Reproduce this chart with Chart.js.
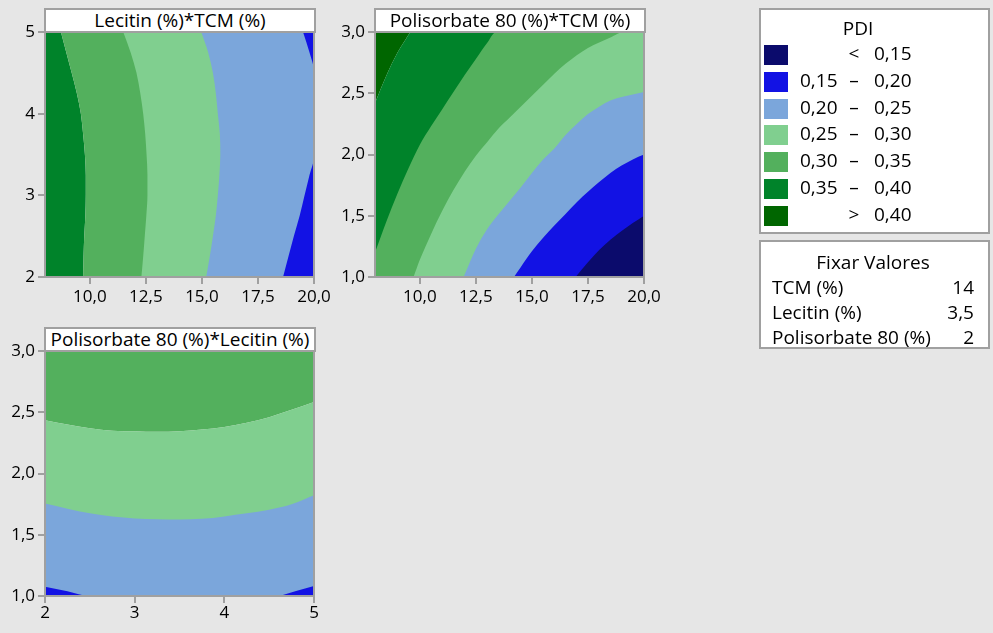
<!DOCTYPE html>
<html>
<head>
<meta charset="utf-8">
<script src="https://cdn.jsdelivr.net/npm/chart.js@4.4.1/dist/chart.umd.min.js"></script>
<style>
html,body{margin:0;padding:0;}
body{width:993px;height:633px;background:#e6e6e6;position:relative;overflow:hidden;font-family:"Open Sans","Noto Sans",sans-serif;color:#000;}
canvas{position:absolute;}
.ttl{position:absolute;box-sizing:border-box;background:#fff;border:2px solid #a0a0a0;text-align:center;font-size:19px;line-height:21px;white-space:nowrap;overflow:hidden;}
.box{position:absolute;box-sizing:border-box;background:#fff;border:2px solid #a0a0a0;}
.t{position:absolute;font-size:19px;line-height:22px;white-space:nowrap;}
.sw{position:absolute;width:24px;height:20px;}
</style>
</head>
<body>
<canvas id="c1" width="340" height="320" style="left:0;top:0"></canvas>
<canvas id="c2" width="340" height="320" style="left:330px;top:0"></canvas>
<canvas id="c3" width="340" height="314" style="left:0;top:319px"></canvas>
<div class="ttl" id="t1" style="left:44px;top:8px;width:272px;height:25px;"></div>
<div class="ttl" id="t2" style="left:374px;top:8px;width:272px;height:25px;"></div>
<div class="ttl" id="t3" style="left:44px;top:327px;width:272px;height:25px;"></div>
<div class="box" id="pdi" style="left:759px;top:8px;width:231px;height:226px;"></div>
<div class="box" id="hold" style="left:759px;top:240px;width:231px;height:109px;"></div>
<script>
// ---------- Texts ----------
const panelTitles = ['Lecitin (%)*TCM (%)', 'Polisorbate 80 (%)*TCM (%)', 'Polisorbate 80 (%)*Lecitin (%)'];
const legendTitle = 'PDI';
const pdiLow  = ['', '0,15', '0,20', '0,25', '0,30', '0,35', ''];
const pdiSep  = ['<', '–', '–', '–', '–', '–', '>'];
const pdiHigh = ['0,15', '0,20', '0,25', '0,30', '0,35', '0,40', '0,40'];
const pdiColors = ['#0b0b6c', '#1212e4', '#7ba6db', '#80cf8f', '#53b05d', '#00832a', '#006600'];
const holdTitle = 'Fixar Valores';
const holdNames = ['TCM (%)', 'Lecitin (%)', 'Polisorbate 80 (%)'];
const holdValues = ['14', '3,5', '2'];

// ---------- Axis ticks ----------
const tcmTicks = [10, 12.5, 15, 17.5, 20];
const tcmTickLabels = ['10,0', '12,5', '15,0', '17,5', '20,0'];
const lecTicks = [2, 3, 4, 5];
const lecTickLabels = ['2', '3', '4', '5'];
const polTicks = [1, 1.5, 2, 2.5, 3];
const polTickLabels = ['1,0', '1,5', '2,0', '2,5', '3,0'];

// ---------- Panel 1: TCM (x) vs Lecitin (y); contour x-positions at each Lecitin level ----------
const p1LecY = [2, 2.25, 2.5, 2.75, 3, 3.25, 3.5, 3.75, 4, 4.25, 4.5, 4.75, 5];
const p1Tcm035 = [9.70, 9.72, 9.75, 9.80, 9.82, 9.82, 9.78, 9.70, 9.60, 9.42, 9.19, 8.95, 8.71];
const p1Tcm030 = [12.30, 12.38, 12.45, 12.52, 12.57, 12.57, 12.53, 12.47, 12.38, 12.25, 12.08, 11.82, 11.49];
const p1Tcm025 = [15.19, 15.35, 15.49, 15.62, 15.71, 15.78, 15.82, 15.80, 15.71, 15.62, 15.49, 15.28, 14.97];
const p1Lec020 = [2, 2.25, 2.5, 2.75, 3, 3.25, 3.47, 4.52, 4.75, 5];
const p1Tcm020 = [18.62, 18.86, 19.10, 19.36, 19.58, 19.80, 20, 20, 19.80, 19.51];

// ---------- Panel 2: TCM (x) vs Polisorbate (y) ----------
const p2X040 = [8, 8.5, 9, 9.3, 9.65, 20];
const p2Y040 = [2.42, 2.64, 2.83, 2.92, 3.0, 3.0];
const p2X035 = [8, 8.5, 9, 9.5, 10, 10.5, 11, 11.5, 12, 12.5, 13, 13.4, 20];
const p2Y035 = [1.20, 1.45, 1.68, 1.89, 2.08, 2.23, 2.37, 2.51, 2.65, 2.78, 2.91, 3.0, 3.0];
const p2X030 = [9.72, 10, 10.5, 11, 11.5, 12, 12.5, 13, 13.5, 14, 14.5, 15, 15.5, 16, 16.5, 17, 17.5, 18, 18.5, 19.1, 20];
const p2Y030 = [1.0, 1.14, 1.35, 1.54, 1.71, 1.86, 1.99, 2.10, 2.21, 2.30, 2.39, 2.48, 2.57, 2.66, 2.74, 2.81, 2.87, 2.915, 2.955, 3.0, 3.0];
const p2X025 = [11.95, 12, 12.5, 13, 13.5, 14, 14.5, 15, 15.5, 16, 16.5, 17, 17.5, 18, 18.5, 19, 19.5, 20];
const p2Y025 = [1.0, 1.02, 1.23, 1.39, 1.51, 1.62, 1.73, 1.85, 1.96, 2.05, 2.16, 2.25, 2.33, 2.39, 2.44, 2.47, 2.49, 2.51];
const p2X020 = [14.2, 14.5, 15, 15.5, 16, 16.5, 17, 17.5, 18, 18.5, 19, 19.5, 20];
const p2Y020 = [1.0, 1.08, 1.21, 1.32, 1.42, 1.515, 1.61, 1.695, 1.775, 1.85, 1.91, 1.96, 2.0];
const p2X015 = [16.95, 17.5, 18, 18.5, 19, 19.5, 20];
const p2Y015 = [1.0, 1.12, 1.22, 1.305, 1.375, 1.44, 1.50];

// ---------- Panel 3: Lecitin (x) vs Polisorbate (y) ----------
const p3LecX = [2, 2.25, 2.5, 2.75, 3, 3.25, 3.5, 3.75, 4, 4.25, 4.5, 4.75, 5];
const p3Pol030 = [2.435, 2.40, 2.37, 2.35, 2.345, 2.34, 2.345, 2.36, 2.38, 2.415, 2.46, 2.52, 2.584];
const p3Pol025 = [1.755, 1.713, 1.675, 1.648, 1.633, 1.627, 1.625, 1.63, 1.65, 1.675, 1.705, 1.75, 1.823];
const p3X020 = [2, 2.25, 2.5, 4.58, 4.8, 5];
const p3Y020 = [1.076, 1.038, 1.0, 1.0, 1.04, 1.082];

// ---------- Helpers ----------
const FONT = '"Open Sans", "Noto Sans", sans-serif';
const zip = (xs, ys) => xs.map((x, i) => ({x: x, y: ys[i]}));
const region = (data, color, target, i) => ({
  data: data, backgroundColor: color, borderColor: color, borderWidth: 0,
  pointRadius: 0, fill: {value: target}, order: -i, cubicInterpolationMode: 'monotone'
});
const framePlugin = {
  id: 'frame',
  afterDraw(chart) {
    const {ctx, chartArea: a} = chart;
    ctx.save();
    ctx.strokeStyle = '#a0a0a0';
    ctx.lineWidth = 2;
    ctx.strokeRect(a.left, a.top, a.right - a.left, a.bottom - a.top);
    ctx.restore();
  }
};
function axisCfg(pos, min, max, vals, labels, size, pad) {
  return {
    type: 'linear', position: pos, min: min, max: max, z: 1,
    afterBuildTicks: s => { s.ticks = vals.map(v => ({value: v})); },
    afterFit: s => { if (pos === 'left') s.width = size; else s.height = size; },
    ticks: {callback: (v, i) => labels[i], color: '#000', font: {family: FONT, size: 17},
            padding: pad, autoSkip: false, maxRotation: 0, minRotation: 0},
    grid: {drawOnChartArea: false, drawTicks: true, tickLength: 7, color: '#a0a0a0', lineWidth: 2},
    border: {display: true, color: '#a0a0a0', width: 2}
  };
}
function makeChart(id, datasets, xAxis, yAxis, indexAxis) {
  return new Chart(document.getElementById(id), {
    type: 'line',
    data: {datasets: datasets},
    options: {
      indexAxis: indexAxis, responsive: false, animation: false, devicePixelRatio: 1, events: [],
      layout: {padding: {top: 32, right: 26, left: 0, bottom: 0}},
      plugins: {legend: {display: false}, tooltip: {enabled: false}, title: {display: false}},
      scales: {x: xAxis, y: yAxis},
      elements: {point: {radius: 0}}
    },
    plugins: [framePlugin]
  });
}

// ---------- Panel 1 (vertical contours, index axis y) ----------
const p1Left = zip(p1Tcm035, p1LecY);
makeChart('c1', [
  region(p1Left, pdiColors[5], 8, 0),
  region(p1Left, pdiColors[4], 20, 1),
  region(zip(p1Tcm030, p1LecY), pdiColors[3], 20, 2),
  region(zip(p1Tcm025, p1LecY), pdiColors[2], 20, 3),
  region(zip(p1Tcm020, p1Lec020), pdiColors[1], 20, 4)
], axisCfg('bottom', 8, 20, tcmTicks, tcmTickLabels, 43, 3),
   axisCfg('left', 2, 5, lecTicks, lecTickLabels, 45, 3), 'y');

// ---------- Panel 2 ----------
const p2Top = zip(p2X040, p2Y040);
makeChart('c2', [
  region(p2Top, pdiColors[6], 3, 0),
  region(p2Top, pdiColors[5], 1, 1),
  region(zip(p2X035, p2Y035), pdiColors[4], 1, 2),
  region(zip(p2X030, p2Y030), pdiColors[3], 1, 3),
  region(zip(p2X025, p2Y025), pdiColors[2], 1, 4),
  region(zip(p2X020, p2Y020), pdiColors[1], 1, 5),
  region(zip(p2X015, p2Y015), pdiColors[0], 1, 6)
], axisCfg('bottom', 8, 20, tcmTicks, tcmTickLabels, 43, 3),
   axisCfg('left', 1, 3, polTicks, polTickLabels, 45, 3), 'x');

// ---------- Panel 3 ----------
const p3Top = zip(p3LecX, p3Pol030);
makeChart('c3', [
  region(p3Top, pdiColors[4], 3, 0),
  region(p3Top, pdiColors[3], 1, 1),
  region(zip(p3LecX, p3Pol025), pdiColors[2], 1, 2),
  region(zip(p3X020, p3Y020), pdiColors[1], 0.5, 3)
], axisCfg('bottom', 2, 5, lecTicks, lecTickLabels, 37, 0),
   axisCfg('left', 1, 3, polTicks, polTickLabels, 45, 3), 'x');

// ---------- Titles ----------
['t1', 't2', 't3'].forEach((id, i) => { document.getElementById(id).textContent = panelTitles[i]; });

// ---------- PDI legend ----------
function addText(parent, txt, left, top, align) {
  const d = document.createElement('div');
  d.className = 't';
  d.textContent = txt;
  d.style.top = top + 'px';
  if (align === 'right') d.style.right = left + 'px'; else d.style.left = left + 'px';
  if (align === 'center') d.style.transform = 'translateX(-50%)';
  parent.appendChild(d);
  return d;
}
const pdiBox = document.getElementById('pdi');
addText(pdiBox, legendTitle, 97, 7, 'center');
pdiColors.forEach((c, i) => {
  const top = 35 + i * 26.8;
  const sw = document.createElement('div');
  sw.className = 'sw';
  sw.style.left = '3px';
  sw.style.top = top + 'px';
  sw.style.background = c;
  pdiBox.appendChild(sw);
  if (pdiLow[i]) addText(pdiBox, pdiLow[i], 39, top - 3, 'left');
  addText(pdiBox, pdiSep[i], 93, top - 3, 'center');
  addText(pdiBox, pdiHigh[i], 113, top - 3, 'left');
});

// ---------- Hold values ----------
const holdBox = document.getElementById('hold');
addText(holdBox, holdTitle, 112, 9, 'center');
holdNames.forEach((n, i) => {
  addText(holdBox, n, 11, 34 + i * 25, 'left');
  addText(holdBox, holdValues[i], 14, 34 + i * 25, 'right');
});
</script>
</body>
</html>
